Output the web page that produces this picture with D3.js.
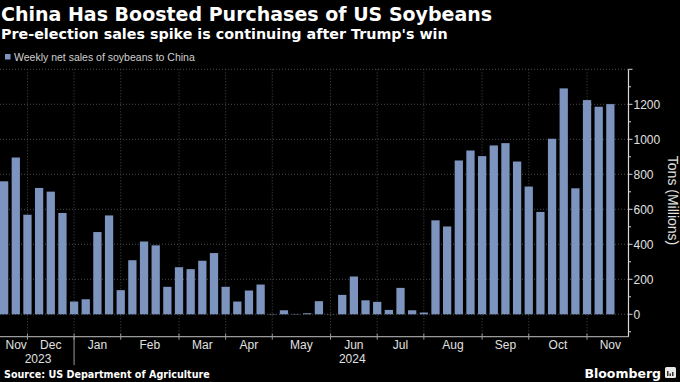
<!DOCTYPE html>
<html>
<head>
<meta charset="utf-8">
<script src="https://cdn.jsdelivr.net/npm/d3@7"></script>
<style>
  html, body { margin: 0; padding: 0; background: #000; }
  svg { display: block; }
</style>
</head>
<body>
<svg id="chart" width="680" height="382"></svg>
<script>
// weekly net sales of soybeans to China, tons (millions) as labelled on the chart
const firstWeek = new Date(2023, 10, 23);
const lastWeek = new Date(2024, 10, 21);
const sales = [
    760, 896, 569, 722, 701, 579, 73, 86, 470, 565,
    138, 309, 416, 394, 157, 269, 258, 306, 350, 157,
    73, 136, 170, 2, 23, 2, 6, 75, 1, 111,
    216, 80, 71, 25, 151, 23, 10, 537, 502, 879,
    936, 904, 965, 978, 873, 730, 585, 1003, 1291, 720,
    1224, 1186, 1201
];
const yTicks = [0, 200, 400, 600, 800, 1000, 1200];
const yMinorTicks = [-100, 0, 100, 200, 300, 400, 500, 600, 700, 800, 900, 1000, 1100, 1200, 1300, 1400];
const yGrid = [0, 200, 400, 600, 800, 1000, 1200, 1400];
const yDomain = [-128, 1400];

const title = "China Has Boosted Purchases of US Soybeans";
const subtitle = "Pre-election sales spike is continuing after Trump's win";
const legendLabel = "Weekly net sales of soybeans to China";
const yLabel = "Tons (Millions)";
const source = "Source: US Department of Agriculture";

const weeks = d3.timeThursday.range(firstWeek, d3.timeDay.offset(lastWeek, 1));
const data = weeks.map((d, i) => ({ date: d, value: sales[i] }));

const BAR = "#7c94be";
const GRID = "#4a4a4a";
const FONT = "'Liberation Sans', Arial, sans-serif";

const svg = d3.select("#chart");
const margin = { top: 69.3, right: 51.5, bottom: 45.3, left: 0 };
const W = 680, H = 382;
const width = W - margin.left - margin.right,
    height = H - margin.top - margin.bottom;

const g = svg.append("g")
    .attr("transform", "translate(" + margin.left + "," + margin.top + ")");

const x = d3.scaleBand()
    .domain(weeks.map(d => +d))
    .range([0, 614.5])
    .paddingInner(0.29)
    .paddingOuter(0);

const y = d3.scaleLinear()
    .domain(yDomain)
    .range([height, 0]);

// center of week i, also for weeks outside the data
const xi = i => x(+weeks[0]) + i * x.step() + x.bandwidth() / 2;
const weekIndex = d => Math.round((d - weeks[0]) / (7 * 864e5));

// month ticks: first week of each month
let months = [];
weeks.forEach((d, i) => {
    const m = d3.timeMonth.floor(d);
    if (!months.length || +months[months.length - 1].start !== +m) {
        const thursdays = d3.timeThursday.range(m, d3.timeMonth.offset(m, 1));
        months.push({ start: m, first: thursdays[0], n: thursdays.length });
    }
});

// horizontal grid
g.selectAll(".hgrid")
    .data(yGrid)
    .enter()
    .append("line")
    .attr("class", "hgrid")
    .attr("x1", 0)
    .attr("x2", width)
    .attr("y1", d => y(d))
    .attr("y2", d => y(d))
    .attr("stroke", GRID)
    .attr("stroke-dasharray", "1,2");

// vertical grid at month starts
const monthTicks = months.filter(m => weekIndex(m.first) >= 0);
g.selectAll(".vgrid")
    .data(monthTicks)
    .enter()
    .append("line")
    .attr("class", "vgrid")
    .attr("x1", d => xi(weekIndex(d.first)))
    .attr("x2", d => xi(weekIndex(d.first)))
    .attr("y1", 0)
    .attr("y2", height)
    .attr("stroke", GRID)
    .attr("stroke-dasharray", "1,2");

// bars
g.selectAll(".bar")
    .data(data)
    .enter()
    .append("rect")
    .attr("class", "bar")
    .attr("x", d => x(+d.date))
    .attr("y", d => y(Math.max(0, d.value)))
    .attr("width", x.bandwidth())
    .attr("height", d => Math.abs(y(d.value) - y(0)))
    .style("fill", BAR);

// bottom axis line + month ticks
g.append("line")
    .attr("x1", 0)
    .attr("x2", width)
    .attr("y1", height)
    .attr("y2", height)
    .attr("stroke", "#9a9a9a")
    .attr("stroke-width", 1.2);

g.selectAll(".mtick")
    .data(monthTicks)
    .enter()
    .append("line")
    .attr("class", "mtick")
    .attr("x1", d => xi(weekIndex(d.first)))
    .attr("x2", d => xi(weekIndex(d.first)))
    .attr("y1", height - 3)
    .attr("y2", height + 3)
    .attr("stroke", "#9a9a9a");

const mLabels = g.selectAll(".mlabel")
    .data(months)
    .enter()
    .append("text")
    .attr("class", "mlabel")
    .attr("y", height + 12.5)
    .attr("text-anchor", "middle")
    .style("font-family", FONT)
    .style("font-size", "12px")
    .style("fill", "#e0e0e0")
    .text(d => d3.timeFormat("%b")(d.start));

mLabels.attr("x", function (d) {
    const half = this.getComputedTextLength() / 2;
    const cx = xi(weekIndex(d.first)) + (d.n / 2) * x.step();
    return Math.max(cx, half + 5.5);
});

// year separator and year labels
const jan = months.find(m => m.start.getMonth() === 0);
const janX = xi(weekIndex(jan.first));
g.append("line")
    .attr("x1", janX)
    .attr("x2", janX)
    .attr("y1", height)
    .attr("y2", height + 28.5)
    .attr("stroke", "#9a9a9a");

const years = [
    { label: "2023", x0: 0, x1: janX },
    { label: "2024", x0: janX, x1: width },
];
g.selectAll(".ylabel")
    .data(years)
    .enter()
    .append("text")
    .attr("x", d => (d.x0 + d.x1) / 2 + 1)
    .attr("y", height + 26.7)
    .attr("text-anchor", "middle")
    .style("font-family", FONT)
    .style("font-size", "12px")
    .style("fill", "#e0e0e0")
    .text(d => d.label);

// right axis
const axisG = g.append("g")
    .attr("transform", "translate(" + width + ",0)");

axisG.append("line")
    .attr("x1", 0).attr("x2", 0)
    .attr("y1", 0).attr("y2", height)
    .attr("stroke", "#d8d8d8")
    .attr("stroke-width", 1.2);

axisG.selectAll(".minor")
    .data(yMinorTicks)
    .enter()
    .append("line")
    .attr("x1", 0)
    .attr("x2", d => (d % 200 === 0 ? 4 : 2.5))
    .attr("y1", d => y(d))
    .attr("y2", d => y(d))
    .attr("stroke", "#d8d8d8");

axisG.selectAll(".ytext")
    .data(yTicks)
    .enter()
    .append("text")
    .attr("x", 5)
    .attr("y", d => y(d))
    .attr("dy", "0.36em")
    .style("font-family", FONT)
    .style("font-size", "12px")
    .style("fill", "#e0e0e0")
    .text(d => d);

svg.append("text")
    .attr("transform", "translate(667.5," + (margin.top + y(650)) + ") rotate(90)")
    .attr("text-anchor", "middle")
    .style("font-family", FONT)
    .style("font-size", "14px")
    .style("fill", "#e0e0e0")
    .text(yLabel);

// titles
svg.append("text")
    .attr("x", 1)
    .attr("y", 21)
    .style("font-family", "'DejaVu Sans', sans-serif")
    .style("font-weight", "bold")
    .style("font-size", "19px")
    .style("fill", "#fff")
    .text(title);

svg.append("text")
    .attr("x", 1)
    .attr("y", 38.5)
    .style("font-family", "'DejaVu Sans', sans-serif")
    .style("font-weight", "bold")
    .style("font-size", "14.3px")
    .style("fill", "#fff")
    .text(subtitle);

// legend
svg.append("rect")
    .attr("x", 5)
    .attr("y", 54)
    .attr("width", 5.5)
    .attr("height", 5.5)
    .style("fill", BAR);

svg.append("text")
    .attr("x", 14)
    .attr("y", 60.8)
    .style("font-family", FONT)
    .style("font-size", "10.5px")
    .style("fill", "#d0d0d0")
    .text(legendLabel);

// footer
svg.append("text")
    .attr("x", 4)
    .attr("y", 378)
    .style("font-family", "'DejaVu Sans', sans-serif")
    .style("font-weight", "bold")
    .style("font-size", "9.6px")
    .style("fill", "#fff")
    .text(source);

svg.append("text")
    .attr("x", 661)
    .attr("y", 377.5)
    .attr("text-anchor", "end")
    .style("font-family", "'DejaVu Sans', sans-serif")
    .style("font-weight", "bold")
    .style("font-size", "12.5px")
    .style("fill", "#fff")
    .text("Bloomberg");

const logo = svg.append("g").attr("transform", "translate(665,367)");
logo.append("rect")
    .attr("width", 11).attr("height", 11).attr("rx", 1.5)
    .style("fill", "#e8e8e8");
[[2, 5], [4.5, 2.5], [7, 4]].forEach(([bx, bh]) => {
    logo.append("rect")
        .attr("x", bx).attr("y", 9 - bh)
        .attr("width", 1.5).attr("height", bh)
        .style("fill", "#333");
});
</script>
</body>
</html>
